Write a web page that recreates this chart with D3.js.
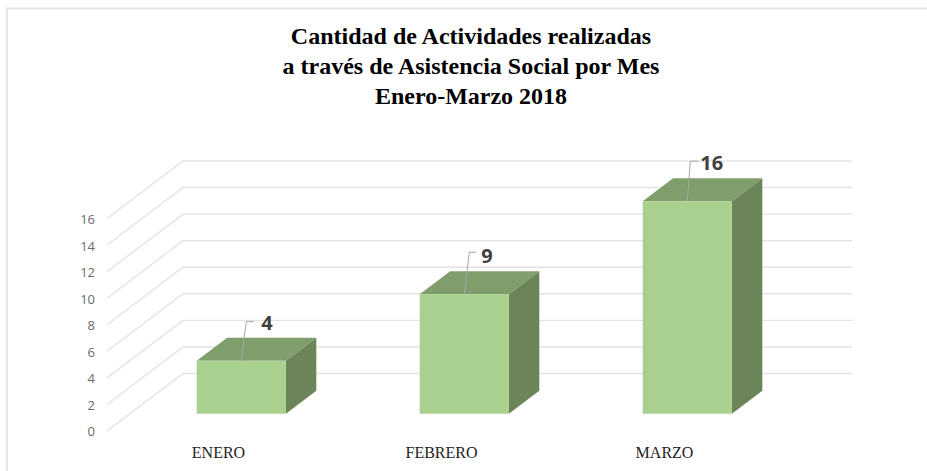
<!DOCTYPE html>
<html>
<head>
<meta charset="utf-8">
<script src="https://cdn.jsdelivr.net/npm/d3@7"></script>
<style>
  html, body { margin: 0; background: #fff; }
  svg { display: block; }
</style>
</head>
<body>
<svg></svg>
<script>
// Chart values
const titleLines = ["Cantidad de Actividades realizadas", "a través de Asistencia Social por Mes", "Enero-Marzo 2018"];
const months = ["ENERO", "FEBRERO", "MARZO"];
const activities = [4, 9, 16];
const yTicks = [0, 2, 4, 6, 8, 10, 12, 14, 16];

// SVG Dimensions
const width = 927;
const height = 471;

// Depth of the 3D floor, in pixels
const depthX = 76;
const depthY = -57.5;

// Scales (front plane of the chart)
const xScale = d3.scaleBand()
  .domain(months)
  .range([107, 776])
  .paddingInner(0.6)
  .paddingOuter(0.3);

const yScale = d3.scaleLinear()
  .domain([0, 16])
  .range([431, 218.5]);

// Project a point on the front plane back to depth z (0 = front, 1 = back)
function project(x, value, z) {
  return [x + z * depthX, yScale(value) + z * depthY];
}

const svg = d3.select("svg")
  .attr("width", width)
  .attr("height", height);

// Frame: only the top and left edges show
svg.append("path")
  .attr("d", d3.line()([[7, height], [7, 8.5], [width, 8.5]]))
  .attr("fill", "none")
  .attr("stroke", "#e6e6e6")
  .attr("stroke-width", 2);

// Gridlines: slanted floor edge plus the back wall
const line = d3.line();
svg.append("g")
  .selectAll("path")
  .data(yTicks)
  .enter()
  .append("path")
  .attr("d", d => line([
    project(107, d, 0),
    project(107, d, 1),
    project(776, d, 1)
  ]))
  .attr("fill", "none")
  .attr("stroke", "#e3e3e3")
  .attr("stroke-width", 1.4);

// Y axis labels
svg.append("g")
  .selectAll("text")
  .data(yTicks)
  .enter()
  .append("text")
  .attr("x", 95)
  .attr("y", d => yScale(d))
  .attr("dy", "0.42em")
  .attr("text-anchor", "end")
  .attr("font-family", "'Open Sans', sans-serif")
  .attr("font-size", 13)
  .attr("fill", "#6b6b6b")
  .text(d => d);

// Bars
const barZ0 = 0.3;
const barZ1 = 0.7;
const bars = svg.append("g")
  .selectAll("g")
  .data(months.map((m, i) => ({month: m, value: activities[i]})))
  .enter()
  .append("g");

// Top face
bars.append("polygon")
  .attr("points", d => {
    const x0 = xScale(d.month);
    const x1 = x0 + xScale.bandwidth();
    return [project(x0, d.value, barZ0), project(x1, d.value, barZ0),
            project(x1, d.value, barZ1), project(x0, d.value, barZ1)].join(" ");
  })
  .attr("fill", "#7f9e6c");

// Side face
bars.append("polygon")
  .attr("points", d => {
    const x1 = xScale(d.month) + xScale.bandwidth();
    return [project(x1, 0, barZ0), project(x1, d.value, barZ0),
            project(x1, d.value, barZ1), project(x1, 0, barZ1)].join(" ");
  })
  .attr("fill", "#6b8559");

// Front face
bars.append("polygon")
  .attr("points", d => {
    const x0 = xScale(d.month);
    const x1 = x0 + xScale.bandwidth();
    return [project(x0, 0, barZ0), project(x1, 0, barZ0),
            project(x1, d.value, barZ0), project(x0, d.value, barZ0)].join(" ");
  })
  .attr("fill", "#a9d08e");

// Leader lines from the top of each bar to its label: the bend sits a bit differently per bar
const leaderRise = {ENERO: 39, FEBRERO: 42, MARZO: 40};
const leaderBend = {ENERO: 5, FEBRERO: 5, MARZO: 3};
const leaderEnd = {ENERO: 13, FEBRERO: 12, MARZO: 11};
const labelGap = {ENERO: 20, FEBRERO: 17, MARZO: 13};

const barTop = d => project(xScale(d.month) + xScale.bandwidth() / 2, d.value, barZ0);

bars.append("path")
  .attr("d", d => {
    const [cx, cy] = barTop(d);
    const rise = leaderRise[d.month];
    return line([[cx, cy], [cx + leaderBend[d.month], cy - rise], [cx + leaderEnd[d.month], cy - rise]]);
  })
  .attr("fill", "none")
  .attr("stroke", "#a6a6a6")
  .attr("stroke-width", 1);

// Value labels
bars.append("text")
  .attr("x", d => barTop(d)[0] + labelGap[d.month])
  .attr("y", d => barTop(d)[1] - 31)
  .attr("font-family", "'Open Sans', sans-serif")
  .attr("font-weight", 700)
  .attr("font-size", 20)
  .attr("fill", "#404040")
  .text(d => d.value);

// Category labels
svg.append("g")
  .selectAll("text")
  .data(months)
  .enter()
  .append("text")
  .attr("x", d => xScale(d) + xScale.bandwidth() / 2)
  .attr("y", 458)
  .attr("text-anchor", "middle")
  .attr("font-family", "'Liberation Serif', serif")
  .attr("font-size", 16)
  .attr("fill", "#222")
  .text(d => d);

// Title
svg.append("g")
  .selectAll("text")
  .data(titleLines)
  .enter()
  .append("text")
  .attr("x", 471)
  .attr("y", (d, i) => 43.5 + i * 30)
  .attr("text-anchor", "middle")
  .attr("font-family", "'Liberation Serif', serif")
  .attr("font-weight", 700)
  .attr("font-size", 24)
  .attr("fill", "#000")
  .text(d => d);
</script>
</body>
</html>
